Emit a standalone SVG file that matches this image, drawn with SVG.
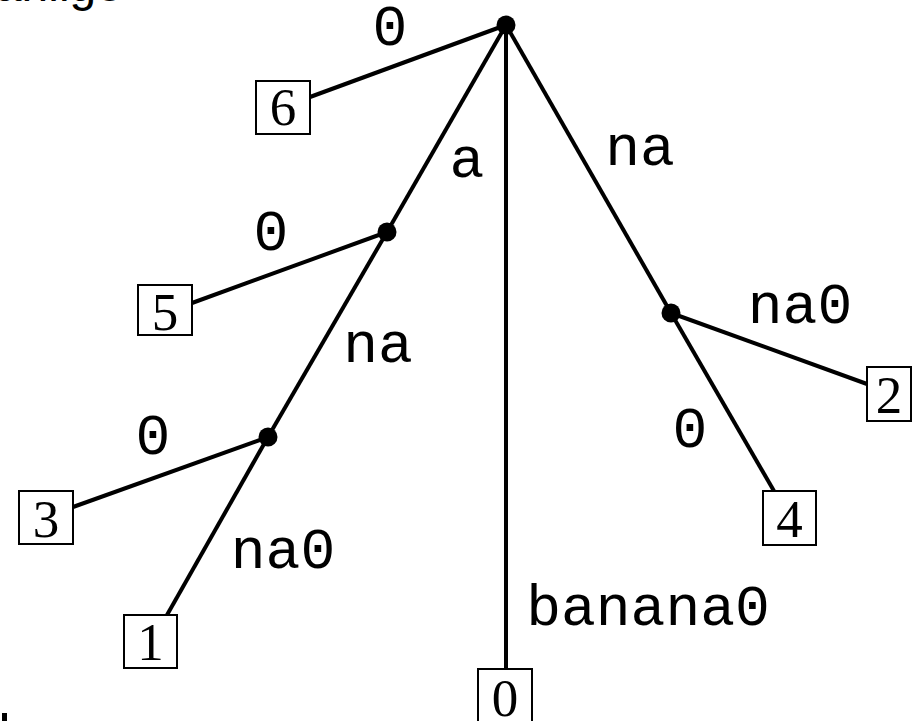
<svg xmlns="http://www.w3.org/2000/svg" width="913" height="721" viewBox="0 0 913 721">
<style>
.e{stroke:#000;stroke-width:4;fill:none;stroke-linecap:butt}
.b{fill:#fff;stroke:#000;stroke-width:2}
.d{font-family:"Liberation Serif","Times New Roman",serif;font-size:53px;text-anchor:middle;fill:#000}
.l{font-family:"Liberation Mono","Courier New",monospace;font-size:58px;text-anchor:middle;fill:#000}
.n{fill:#000}
</style>
<rect width="913" height="721" fill="#fff"/>
<text x="123" y="1" font-family="Liberation Sans,Arial,sans-serif" font-size="48" text-anchor="end">anlige</text>
<rect x="2" y="713" width="5" height="8" fill="#000"/>
<g id="edges">
<line class="e" x1="506" y1="25" x2="310" y2="97"/>
<line class="e" x1="506" y1="25" x2="506" y2="669"/>
<line class="e" x1="506" y1="25" x2="387" y2="232"/>
<line class="e" x1="387" y1="232" x2="192" y2="303"/>
<line class="e" x1="387" y1="232" x2="268" y2="437"/>
<line class="e" x1="268" y1="437" x2="73" y2="507"/>
<line class="e" x1="268" y1="437" x2="167" y2="615"/>
<line class="e" x1="506" y1="25" x2="671" y2="313"/>
<line class="e" x1="671" y1="313" x2="867" y2="384"/>
<line class="e" x1="671" y1="313" x2="774" y2="491"/>
<text class="l" x="390" y="45">0</text>
<text class="l" x="467" y="177">a</text>
<text class="l" x="640" y="165">na</text>
<text class="l" x="271" y="250">0</text>
<text class="l" x="378" y="362">na</text>
<text class="l" x="800" y="323">na0</text>
<text class="l" x="153" y="454">0</text>
<text class="l" x="690" y="447">0</text>
<text class="l" x="283" y="568">na0</text>
<text class="l" x="648" y="625">banana0</text>
</g>
<g id="root"><circle class="n" cx="506" cy="25" r="9.5"/></g>
<g id="node-a"><circle class="n" cx="387" cy="232" r="9.5"/></g>
<g id="node-ana"><circle class="n" cx="268" cy="437" r="9.5"/></g>
<g id="node-na"><circle class="n" cx="671" cy="313" r="9.5"/></g>
<g id="leaf6"><rect class="b" x="256" y="81" width="54" height="53"/><text class="d" x="283" y="125">6</text></g>
<g id="leaf5"><rect class="b" x="138" y="285" width="54" height="50"/><text class="d" x="165" y="330">5</text></g>
<g id="leaf3"><rect class="b" x="19" y="491" width="54" height="53"/><text class="d" x="46" y="537">3</text></g>
<g id="leaf1"><rect class="b" x="124" y="615" width="53" height="53"/><text class="d" x="150.5" y="660">1</text></g>
<g id="leaf0"><rect class="b" x="478" y="669" width="54" height="54"/><text class="d" x="505" y="716">0</text></g>
<g id="leaf2"><rect class="b" x="867" y="367" width="44" height="54"/><text class="d" x="889" y="413">2</text></g>
<g id="leaf4"><rect class="b" x="763" y="491" width="53" height="54"/><text class="d" x="789.5" y="537">4</text></g>
</svg>
